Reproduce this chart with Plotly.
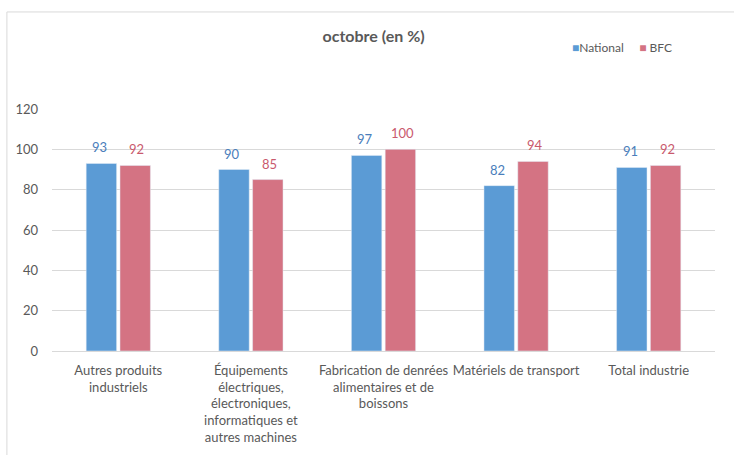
import plotly.graph_objects as go

categories = [
    "Autres produits<br>industriels",
    "Équipements<br>électriques,<br>électroniques,<br>informatiques et<br>autres machines",
    "Fabrication de denrées<br>alimentaires et de<br>boissons",
    "Matériels de transport",
    "Total industrie",
]
national = [93, 90, 97, 82, 91]
bfc = [92, 85, 100, 94, 92]
y_ticks = [0, 20, 40, 60, 80, 100, 120]

font = "Lato, Open Sans, sans-serif"
grey = "#595959"
blue, pink = "#5B9BD5", "#D47383"

fig = go.Figure()
series = [
    ("National", national, blue, "#4A7EBB", 0),
    ("BFC", bfc, pink, "#C9596D", 1),
]
for name, values, color, label_color, idx in series:
    fig.add_trace(
        go.Bar(
            x=categories,
            y=values,
            name=name,
            marker_color=color,
            offsetgroup=idx,
        )
    )
    # data labels, a bit above the bars like the original
    for cat, v in zip(categories, values):
        fig.add_annotation(
            x=cat,
            y=v,
            text=str(v),
            showarrow=False,
            yanchor="bottom",
            yshift=6,
            xshift=-18.5 if idx == 0 else 18.5,
            font=dict(color=label_color, size=13, family=font),
        )

# small legend, Excel style: square right next to the name
fig.add_annotation(
    xref="paper",
    yref="paper",
    x=0.781,
    y=1.256,
    xanchor="left",
    yanchor="middle",
    showarrow=False,
    text=(
        f"<span style='color:{blue}'>■</span>National"
        f"     <span style='color:{pink}'>■</span> BFC"
    ),
    font=dict(size=12, color=grey, family=font),
)

fig.update_layout(
    width=734,
    height=455,
    margin=dict(l=52, r=19, t=109, b=104),
    plot_bgcolor="white",
    paper_bgcolor="white",
    barmode="group",
    bargap=0.49,
    bargroupgap=0.1,
    showlegend=False,
    font=dict(family=font, color=grey, size=13),
    title=dict(
        text="<b>octobre (en %)</b>",
        x=0.509,
        xanchor="center",
        y=0.92,
        yanchor="middle",
        font=dict(size=16, color=grey),
    ),
    xaxis=dict(
        showline=True,
        linecolor="#D9D9D9",
        ticks="",
        tickfont=dict(size=13, color=grey),
        ticklabelstandoff=7,
        automargin=False,
    ),
    yaxis=dict(
        range=[0, 120],
        tickvals=y_ticks,
        showgrid=True,
        gridcolor="#D9D9D9",
        zeroline=False,
        showline=False,
        tickfont=dict(size=13, color=grey),
        ticklabelstandoff=13,
        automargin=False,
    ),
    shapes=[
        dict(type="line", xref="paper", yref="paper", x0=-0.068, x1=-0.068,
             y0=-0.5, y1=1.401, line=dict(color="#D9D9D9", width=1)),
        dict(type="line", xref="paper", yref="paper", x0=-0.068, x1=1.1,
             y0=1.401, y1=1.401, line=dict(color="#D9D9D9", width=1)),
    ],
)

# drop the default body margin so the figure sits at the page corner
fig.write_html(
    "out.html",
    config={"displayModeBar": False},
    post_script="document.body.style.margin='0';",
)
